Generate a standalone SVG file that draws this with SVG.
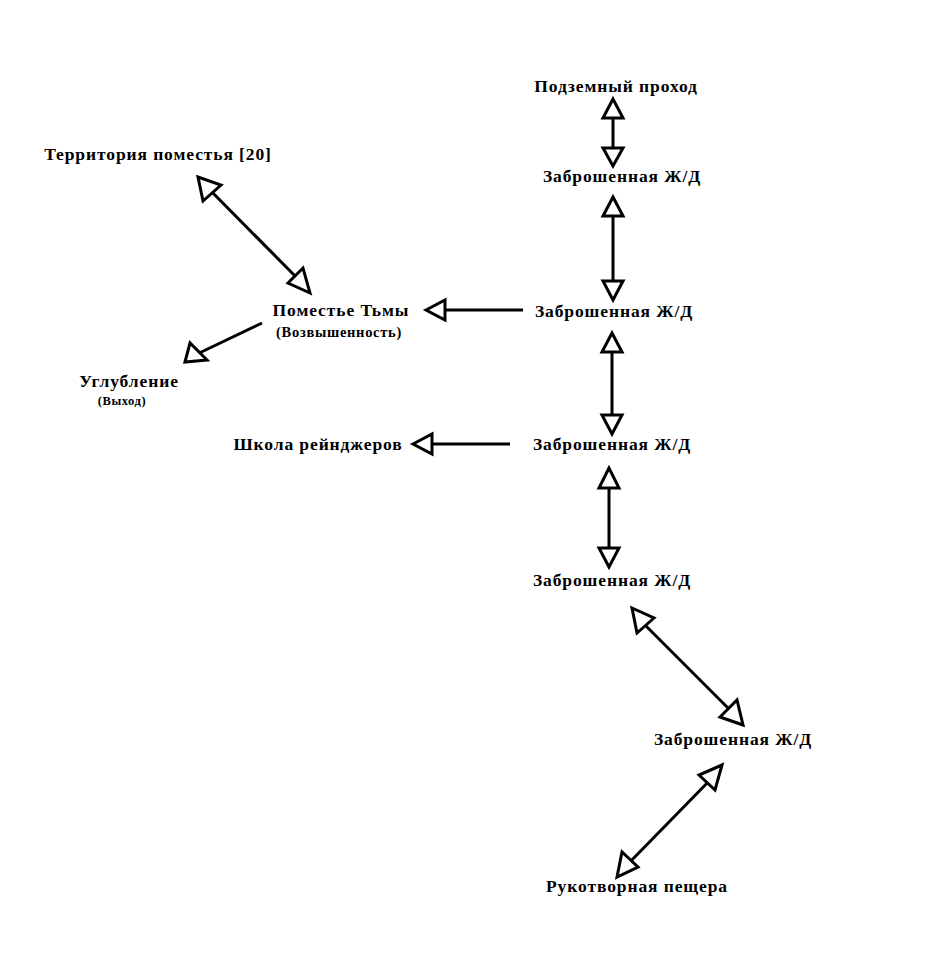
<svg xmlns="http://www.w3.org/2000/svg" width="937" height="973" viewBox="0 0 937 973">
<style>
text{font-family:"Liberation Serif","Times New Roman",serif;font-weight:bold;fill:#000}
.t{font-size:17.5px;letter-spacing:0.9px}
.s{font-size:14.5px;letter-spacing:0.7px}
.xs{font-size:12.5px;letter-spacing:0.6px}
line{stroke:#000;stroke-width:3;fill:none}
polygon{stroke:#000;stroke-width:3;fill:#fff;stroke-linejoin:miter}
</style>
<rect width="937" height="973" fill="#fff"/>
<g id="connectors">
  <line x1="613" y1="118" x2="613" y2="148"/>
  <polygon points="613,99 603,118 623,118"/>
  <polygon points="613,166 603,148 623,148"/>
  <line x1="613" y1="216" x2="613" y2="281"/>
  <polygon points="613,197 603,216 623,216"/>
  <polygon points="613,300 603,281 623,281"/>
  <line x1="445" y1="310" x2="523" y2="310"/>
  <polygon points="426,310 445,300 445,320"/>
  <line x1="612" y1="352" x2="612" y2="415"/>
  <polygon points="612,333 602,352 622,352"/>
  <polygon points="612,434 602,415 622,415"/>
  <line x1="432" y1="444" x2="510" y2="444"/>
  <polygon points="413,444 432,434 432,454"/>
  <line x1="609" y1="488" x2="609" y2="548"/>
  <polygon points="609,468 599,488 619,488"/>
  <polygon points="609,567 599,548 619,548"/>
  <line x1="640" y1="620" x2="734" y2="714"/>
  <polygon points="632,608 654,618 637,633"/>
  <polygon points="743,725 720,717 737,700"/>
  <line x1="714" y1="776" x2="626" y2="866"/>
  <polygon points="722,765 715,790 699,775"/>
  <polygon points="617,877 622,852 638,867"/>
  <line x1="206" y1="186" x2="302" y2="283"/>
  <polygon points="198,177 221,185 203,201"/>
  <polygon points="310,293 288,283 303,268"/>
  <line x1="262" y1="323" x2="193" y2="356"/>
  <polygon points="185,362 190,343 207,360"/>
</g>
<g id="n-podzemny"><text class="t" x="616" y="92" text-anchor="middle">Подземный проход</text></g>
<g id="n-zhd1"><text class="t" x="622" y="182" text-anchor="middle">Заброшенная Ж/Д</text></g>
<g id="n-zhd2"><text class="t" x="614" y="317" text-anchor="middle">Заброшенная Ж/Д</text></g>
<g id="n-zhd3"><text class="t" x="612" y="450" text-anchor="middle">Заброшенная Ж/Д</text></g>
<g id="n-zhd4"><text class="t" x="612" y="586" text-anchor="middle">Заброшенная Ж/Д</text></g>
<g id="n-zhd5"><text class="t" x="733" y="745" text-anchor="middle">Заброшенная Ж/Д</text></g>
<g id="n-rukotvornaya"><text class="t" x="637" y="892" text-anchor="middle">Рукотворная пещера</text></g>
<g id="n-territoriya"><text class="t" x="158" y="160" text-anchor="middle">Территория поместья [20]</text></g>
<g id="n-pomestye">
  <text class="t" x="341" y="316" text-anchor="middle">Поместье Тьмы</text>
  <text class="s" x="339" y="337" text-anchor="middle">(Возвышенность)</text>
</g>
<g id="n-uglublenie">
  <text class="t" x="129" y="387" text-anchor="middle">Углубление</text>
  <text class="xs" x="122" y="405" text-anchor="middle">(Выход)</text>
</g>
<g id="n-shkola"><text class="t" x="318" y="450" text-anchor="middle">Школа рейнджеров</text></g>
</svg>
